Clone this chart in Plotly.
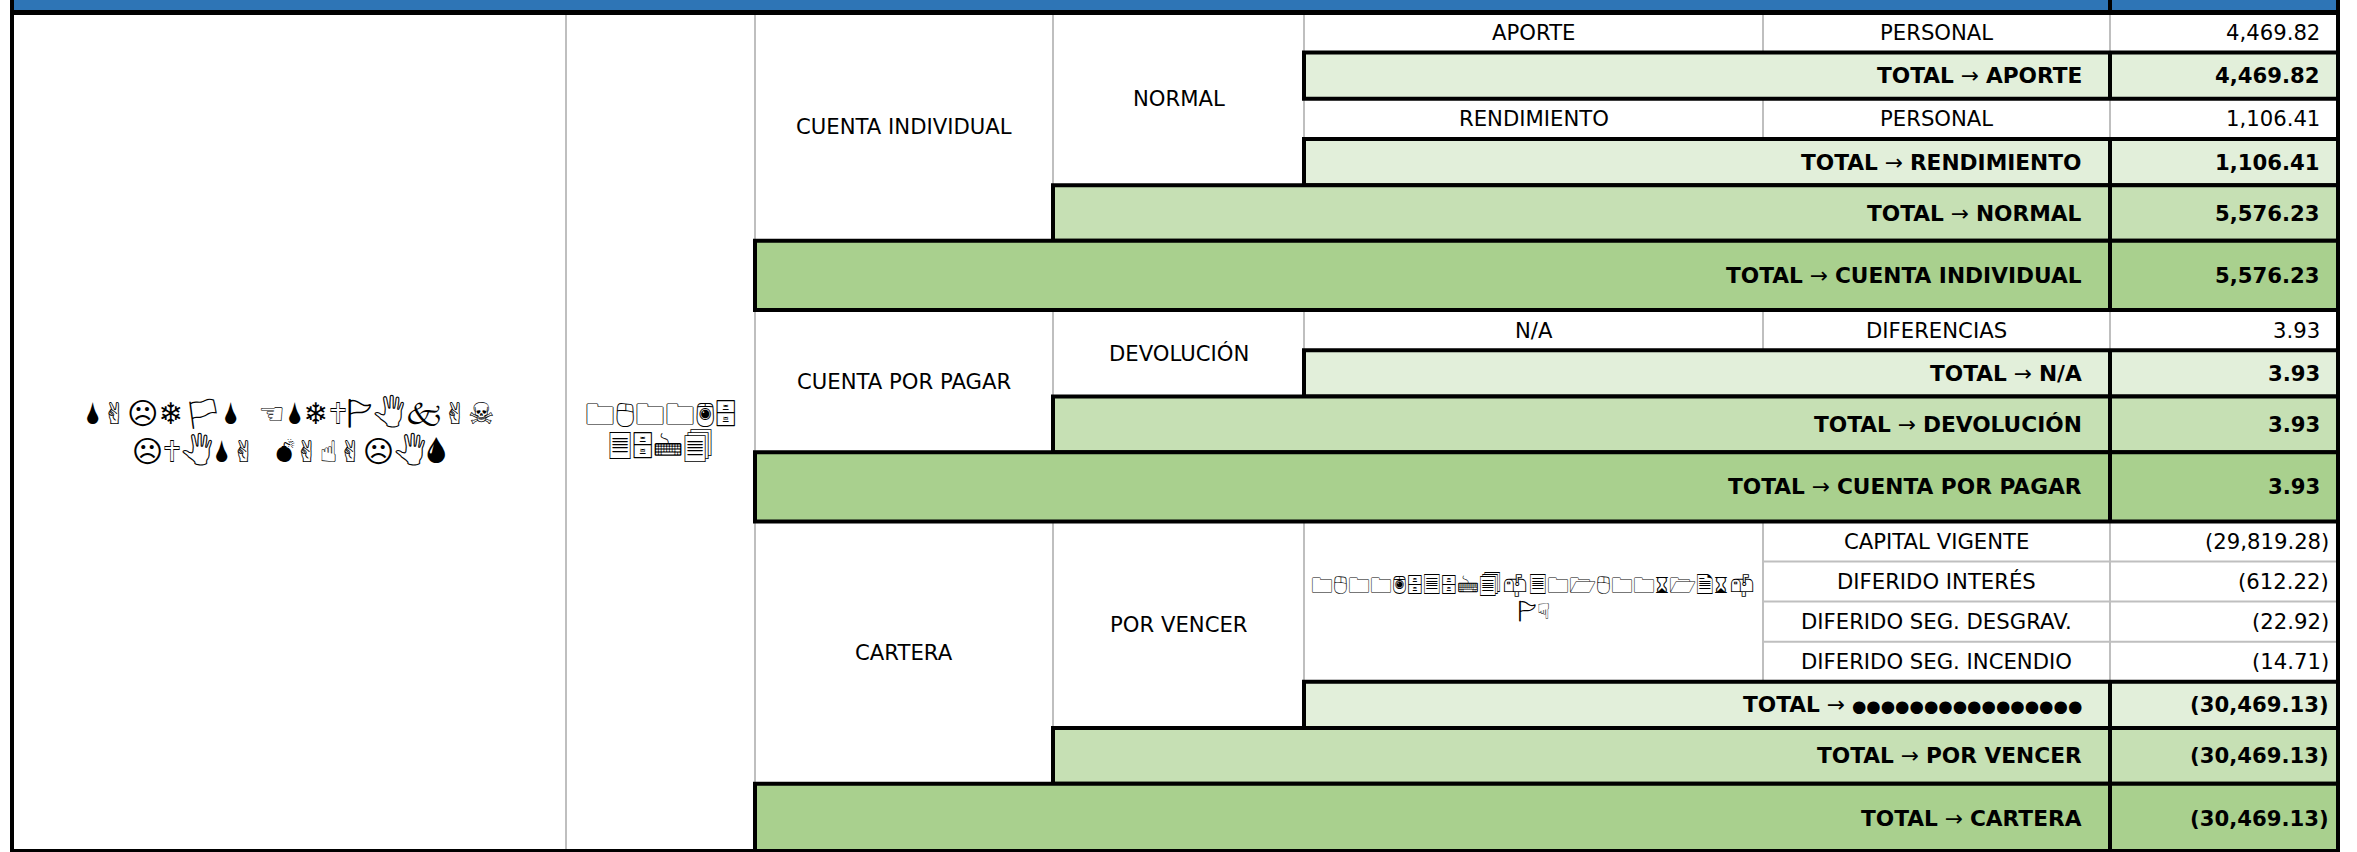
import plotly.graph_objects as go

W, H = 2357, 852

# ---------------- data ----------------
nombre_lineas = ["🌢✌︎☹︎❄︎🏳︎🌢  ☜︎🌢❄︎🕆🏱🖑🙵✌︎☠︎",
                 "☹︎🕆🖑🌢✌︎  💣︎✌︎☝︎✌︎☹︎🖑🌢"]
cedula_lineas = ["🗀🖰🗀🗀🖲🗄", "🗏🗄🖮🗐"]
prestamo_lineas = ["🗀🖰🗀🗀🖲🗄🗏🗄🖮🗐📫︎🗏🗀🗁🖰🗀🗀⌛︎🗁🗎⌛︎📫︎", "🏱☟︎"]

cuentas = ["CUENTA INDIVIDUAL", "CUENTA POR PAGAR", "CARTERA"]
tipos = ["NORMAL", "DEVOLUCIÓN", "POR VENCER"]
grupos = [["APORTE", "RENDIMIENTO"], ["N/A"], ["PRESTAMO"]]
grupo_total_labels = [["APORTE", "RENDIMIENTO"], ["N/A"], ["●" * 16]]
conceptos = [
    [["PERSONAL"], ["PERSONAL"]],
    [["DIFERENCIAS"]],
    [["CAPITAL VIGENTE", "DIFERIDO INTERÉS", "DIFERIDO SEG. DESGRAV.", "DIFERIDO SEG. INCENDIO"]],
]
valores = [
    [[4469.82], [1106.41]],
    [[3.93]],
    [[-29819.28, -612.22, -22.92, -14.71]],
]

# ---------------- layout constants ----------------
COLS = [12, 566, 755, 1053, 1304, 1763, 2110, 2338]
Y0 = 12.5
ROW_H = {"d": 40.1, "t3": 46.25, "t2": 55.67, "t1": 69.25}
FILL = {"t3": "#E2EFDA", "t2": "#C6E0B4", "t1": "#A9D08E"}
LEFT = {"t3": COLS[4], "t2": COLS[3], "t1": COLS[2]}
BLUE = "#2E75B6"
GREY = "#BFBFBF"
FONT = "DejaVu Sans, Verdana, sans-serif"
GLYPH_FONT = "DejaVu Sans, Noto Sans, sans-serif"
FS = 21.2
FS_BOLD = 21.7
VAL_RIGHT = 2322
PAREN = 9
LABEL_RIGHT = 2084

shapes = []
ann = []


def fmt(v):
    s = f"{abs(v):,.2f}"
    return f"({s})" if v < 0 else s


def text(x, y, s, anchor="center", size=FS, family=FONT):
    ann.append(dict(x=x, y=y, xref="x", yref="y", text=s, showarrow=False,
                    xanchor=anchor, yanchor="middle",
                    font=dict(family=family, size=size, color="black")))


def line(x0, y0, x1, y1, color="black", width=4):
    shapes.append(dict(type="line", xref="x", yref="y", x0=x0, y0=y0, x1=x1, y1=y1,
                       line=dict(color=color, width=width)))


def value_text(y, v, bold=False):
    s = fmt(v)
    if bold:
        s = f"<b>{s}</b>"
    text(VAL_RIGHT + (PAREN if v < 0 else 0), y, s, anchor="right")


def total_row(kind, y0, label, v):
    y1 = y0 + ROW_H[kind]
    shapes.append(dict(type="rect", xref="x", yref="y", x0=LEFT[kind], x1=COLS[7],
                       y0=y0, y1=y1, fillcolor=FILL[kind],
                       line=dict(color="black", width=4)))
    line(COLS[6], y0, COLS[6], y1)
    yc = (y0 + y1) / 2
    if set(label) == {"●"}:
        lab = f'<span style="font-size:16.5px">{label}</span>'
    else:
        lab = f"<b>{label}</b>"
    text(LABEL_RIGHT, yc, f"<b>TOTAL</b> → {lab}", anchor="right", size=FS_BOLD)
    value_text(yc, v, bold=True)
    return y1


# header band
shapes.append(dict(type="rect", xref="x", yref="y", x0=COLS[0], x1=COLS[7], y0=0, y1=Y0,
                   fillcolor=BLUE, line=dict(width=0)))
# grey inner verticals
for cx in COLS[1:7]:
    line(cx, Y0, cx, H, GREY, 2)

y = Y0
for ci, cuenta in enumerate(cuentas):
    c_top = y
    t_top = y
    c_total = 0.0
    for gi, g in enumerate(grupos[ci]):
        g_top = y
        g_total = 0.0
        for k, (lab, v) in enumerate(zip(conceptos[ci][gi], valores[ci][gi])):
            if k > 0:
                line(COLS[5], y, COLS[7], y, GREY, 2)
            yc = y + ROW_H["d"] / 2
            text((COLS[5] + COLS[6]) / 2, yc, lab)
            value_text(yc, v)
            g_total += v
            y += ROW_H["d"]
        xc4 = (COLS[4] + COLS[5]) / 2
        if g == "PRESTAMO":
            gm = (g_top + y) / 2
            text(xc4, gm - 17, prestamo_lineas[0], size=22, family=GLYPH_FONT)
            text(xc4, gm + 10, prestamo_lineas[1], size=22, family=GLYPH_FONT)
        else:
            text(xc4, (g_top + y) / 2, g)
        y = total_row("t3", y, grupo_total_labels[ci][gi], g_total)
        c_total += g_total
    text((COLS[3] + COLS[4]) / 2, (t_top + y) / 2, tipos[ci])
    y = total_row("t2", y, tipos[ci], c_total)
    text((COLS[2] + COLS[3]) / 2, (c_top + y) / 2, cuenta)
    y = total_row("t1", y, cuenta, c_total)

# name and id cells
xc0 = (COLS[0] + COLS[1]) / 2
xc1 = (COLS[1] + COLS[2]) / 2
text(xc0, 412, nombre_lineas[0], size=30, family=GLYPH_FONT)
text(xc0, 450, nombre_lineas[1], size=30, family=GLYPH_FONT)
text(xc1, 414, cedula_lineas[0], size=30, family=GLYPH_FONT)
text(xc1, 446, cedula_lineas[1], size=30, family=GLYPH_FONT)

# outer black borders
line(COLS[6], 0, COLS[6], Y0)
line(COLS[0] - 2, Y0, COLS[7] + 2, Y0, "black", 5)
line(COLS[0], 0, COLS[0], H)
line(COLS[7], 0, COLS[7], H)
line(COLS[0], H - 1, COLS[7], H - 1)

fig = go.Figure()
fig.update_layout(
    width=W, height=H,
    margin=dict(l=0, r=0, t=0, b=0),
    paper_bgcolor="white", plot_bgcolor="white",
    xaxis=dict(range=[0, W], visible=False, fixedrange=True),
    yaxis=dict(range=[H, 0], visible=False, fixedrange=True),
    shapes=shapes, annotations=ann, showlegend=False,
)
fig.write_html("out.html", config={"displayModeBar": False},
               post_script="document.body.style.margin='0';document.body.style.overflow='hidden';")
